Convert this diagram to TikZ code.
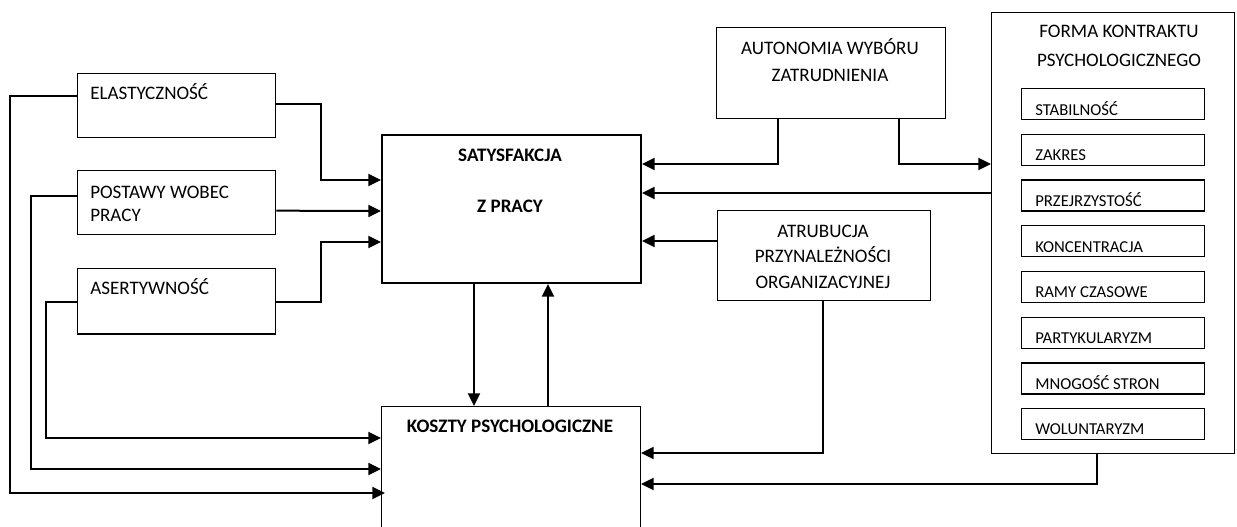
\documentclass[tikz,border=0pt]{standalone}
\usepackage{fontspec}
\setmainfont{Carlito}
\usetikzlibrary{positioning, calc, arrows.meta}

\begin{document}
\begin{tikzpicture}[x=0.75pt, y=-0.75pt,
  box/.style={draw, line width=1pt, anchor=north west, inner sep=0pt},
  txt/.style={inner sep=0pt, font=\fontsize{14.3}{17}\selectfont},
  bold/.style={inner sep=0pt, anchor=base, font=\fontsize{14.3}{17}\selectfont\bfseries},
  small/.style={inner sep=0pt, anchor=base west, font=\fontsize{12.5}{15}\selectfont},
  arr/.style={line width=1.5pt, -{Triangle[length=9.5pt,width=9pt]}}]
\useasboundingbox (0,0) rectangle (1237,526);
\clip (0,0) rectangle (1237,526);

\node[box, minimum width=148.5pt, minimum height=48pt] (elast) at (77,73) {};
\node[box, minimum width=148.5pt, minimum height=48pt] (postawy) at (77,170) {};
\node[box, minimum width=148.5pt, minimum height=49pt] (asert) at (77,268) {};
\node[box, line width=1.5pt, minimum width=194.25pt, minimum height=111pt] (sat) at (381,134) {};
\node[box, line width=0.8pt, minimum width=194.25pt, minimum height=105pt] (koszty) at (381,406) {};
\node[box, minimum width=171.75pt, minimum height=68.25pt] (auto) at (716,27) {};
\node[box, minimum width=159.75pt, minimum height=67.5pt] (atr) at (717,210) {};
\node[box, minimum width=182.25pt, minimum height=330.75pt] (forma) at (991,12) {};

\node[txt, anchor=base west] (elast-t) at (90,99) {ELASTYCZNOŚĆ};
\node[txt, anchor=base west] (postawy-t1) at (90,198) {POSTAWY WOBEC};
\node[txt, anchor=base west] (postawy-t2) at (90,221) {PRACY};
\node[txt, anchor=base west] (asert-t) at (90,294) {ASERTYWNOŚĆ};
\node[bold] (sat-t1) at (510,161) {SATYSFAKCJA};
\node[bold] (sat-t2) at (510,212) {Z PRACY};
\node[bold] (koszty-t) at (510,432) {KOSZTY PSYCHOLOGICZNE};
\node[txt, anchor=base] (auto-t1) at (830,54) {AUTONOMIA WYBÓRU};
\node[txt, anchor=base] (auto-t2) at (830,81) {ZATRUDNIENIA};
\node[txt, anchor=base] (atr-t1) at (823,237) {ATRUBUCJA};
\node[txt, anchor=base] (atr-t2) at (823,262.5) {PRZYNALEŻNOŚCI};
\node[txt, anchor=base] (atr-t3) at (823,288) {ORGANIZACYJNEJ};
\node[txt, anchor=base] (forma-t1) at (1119,37) {FORMA KONTRAKTU};
\node[txt, anchor=base] (forma-t2) at (1119,66) {PSYCHOLOGICZNEGO};

\foreach \t [count=\i from 0] in {STABILNOŚĆ, ZAKRES, PRZEJRZYSTOŚĆ, KONCENTRACJA, RAMY CZASOWE, PARTYKULARYZM, MNOGOŚĆ STRON, WOLUNTARYZM} {
  \node[box, minimum width=137.25pt, minimum height=23.25pt] (in\i) at (1021,{88+45.7*\i}) {};
  \node[small] (in\i-t) at ($(in\i.north west)+(14,27)$) {\t};
}

\draw[arr] ($(elast.east)+(0,-2)$) -- ++(45,0) |- ($(sat.west)+(0,-29)$);
\draw[arr] ($(postawy.east)+(0,8)$) -- ($(sat.west)+(0,2)$);
\draw[arr] ($(asert.east)+(0,1)$) -- ++(45,0) |- ($(sat.west)+(0,33)$);
\draw[arr] ($(elast.west)+(0,-10)$) -- ++(-67,0) |- ($(koszty.north west)+(4,87)$);
\draw[arr] ($(postawy.west)+(0,-7)$) -- ++(-46,0) |- ($(koszty.north west)+(0,63)$);
\draw[arr] ($(asert.west)+(0,1)$) -- ++(-31,0) |- ($(koszty.north west)+(0,32)$);
\draw[arr] ($(sat.south west)+(93,0)$) -- ($(koszty.north west)+(93,0)$);
\draw[arr] ($(koszty.north west)+(167,0)$) -- ($(sat.south west)+(167,0)$);
\draw[arr] ($(auto.south west)+(62,0)$) |- ($(sat.north east)+(0,30)$);
\draw[arr] ($(auto.south west)+(183,0)$) |- ($(forma.north west)+(0,152)$);
\draw[arr] ($(forma.north west)+(0,181)$) -- ($(sat.north east)+(0,59)$);
\draw[arr] ($(atr.north west)+(0,31)$) -- ($(sat.north east)+(0,107)$);
\draw[arr] ($(atr.south west)+(106,0)$) |- ($(koszty.north east)+(0,47)$);
\draw[arr] ($(forma.south west)+(106,0)$) |- ($(koszty.north east)+(0,78)$);
\end{tikzpicture}
\end{document}
